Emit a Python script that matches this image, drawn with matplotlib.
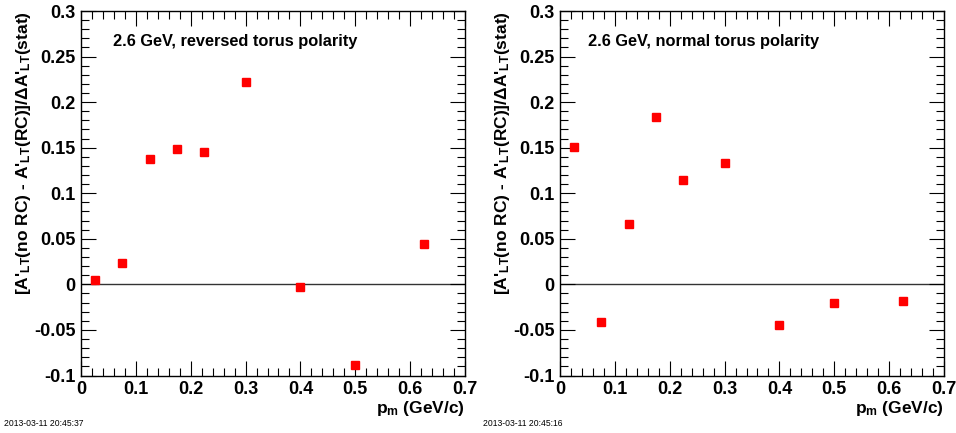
import matplotlib
matplotlib.use("Agg")
import matplotlib.pyplot as plt
from matplotlib.ticker import MultipleLocator

plt.rcParams['font.family'] = ['Liberation Sans', 'DejaVu Sans']
plt.rcParams['mathtext.default'] = 'regular'

pm = [0.025, 0.075, 0.125, 0.175, 0.225, 0.3, 0.4, 0.5, 0.625]
reversed_vals = [0.005, 0.023, 0.138, 0.149, 0.145, 0.222, -0.003, -0.088, 0.044]
normal_vals = [0.151, -0.041, 0.066, 0.184, 0.114, 0.133, -0.045, -0.020, -0.018]
titles = ["2.6 GeV, reversed torus polarity", "2.6 GeV, normal torus polarity"]
stamps = ["2013-03-11 20:45:37", "2013-03-11 20:45:16"]

fig = plt.figure(figsize=(9.56, 4.33), dpi=100)

W, H = 956, 433
panels = [(81, reversed_vals, titles[0], stamps[0], 113, 4),
          (560, normal_vals, titles[1], stamps[1], 588, 483)]

ylabel = "[A'$_{LT}$(no RC) - A'$_{LT}$(RC)]/\u0394A'$_{LT}$(stat)"


def fmt(v, p):
    return f"{v:g}" if abs(v) > 1e-9 else "0"


for left_px, vals, title, stamp, tx_px, st_px in panels:
    ax = fig.add_axes([left_px / W, (H - 375.5) / H, 384 / W, 364.5 / H])
    ax.set_xlim(0, 0.7)
    ax.set_ylim(-0.1, 0.3)
    ax.axhline(0, color='#333333', lw=1.0, zorder=1)
    ax.plot(pm, vals, ls='none', marker='s', ms=5.4, color='#ff0000',
            mec='#ff0000', zorder=3)
    ax.xaxis.set_major_locator(MultipleLocator(0.1))
    ax.xaxis.set_minor_locator(MultipleLocator(0.02))
    ax.yaxis.set_major_locator(MultipleLocator(0.05))
    ax.yaxis.set_minor_locator(MultipleLocator(0.01))
    ax.xaxis.set_major_formatter(plt.FuncFormatter(fmt))
    ax.yaxis.set_major_formatter(plt.FuncFormatter(fmt))
    ax.tick_params(which='both', direction='in', top=True, right=True, width=0.8, color='black')
    ax.tick_params(which='major', length=11)
    ax.tick_params(which='minor', length=5.5)
    ax.tick_params(axis='both', which='major', pad=4)
    for lab in ax.get_xticklabels() + ax.get_yticklabels():
        lab.set_fontweight('bold')
        lab.set_fontsize(13)
    for s in ax.spines.values():
        s.set_linewidth(1.0)
    ax.text((tx_px - left_px) / 384, 0.915, title, transform=ax.transAxes,
            fontsize=11.8, fontweight='bold', ha='left', va='center')
    ax.text(1.0, -0.09, "p$_{m}$ (GeV/c)", transform=ax.transAxes,
            fontsize=12.5, fontweight='bold', ha='right', va='center')
    ax.text(-57 / 384, 1.0, ylabel, transform=ax.transAxes,
            rotation=90, fontsize=12.5, fontweight='bold', ha='center', va='top')
    fig.text(st_px / W, (H - 424) / H, stamp, fontsize=6.2, ha='left', va='center')

fig.savefig("out.png", dpi=100)
